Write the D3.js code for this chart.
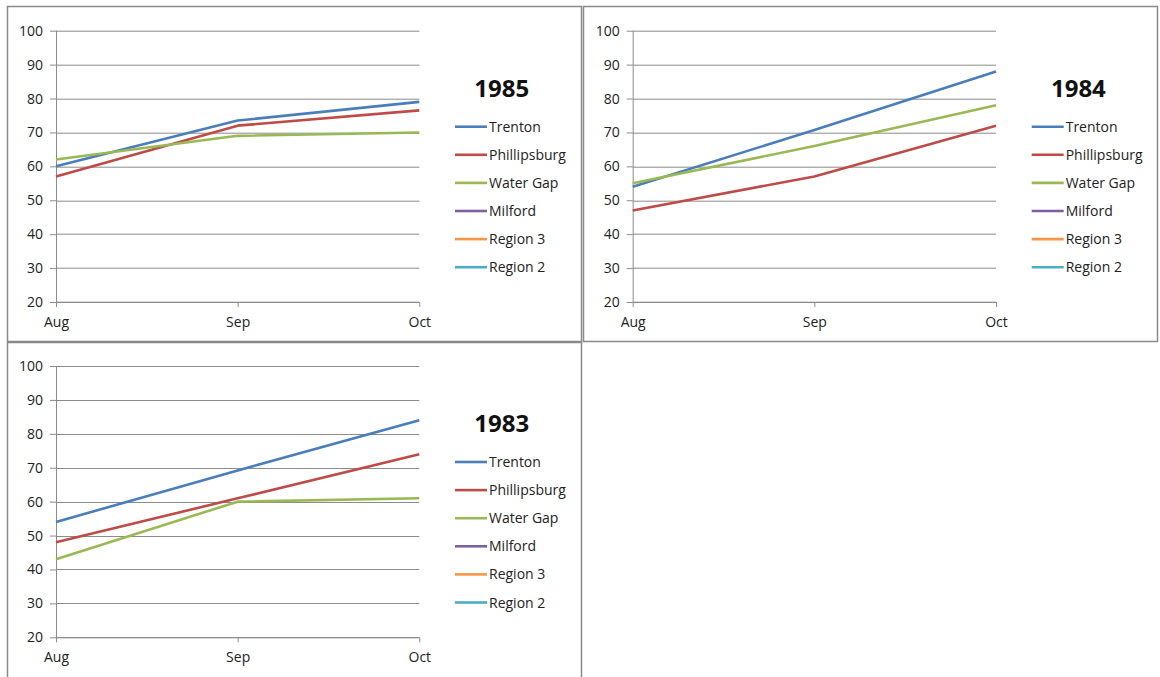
<!DOCTYPE html>
<html>
<head>
<meta charset="utf-8">
<script src="https://cdnjs.cloudflare.com/ajax/libs/d3/7.8.5/d3.min.js"></script>
<style>
  html, body { margin: 0; padding: 0; background: #fff; }
  svg { display: block; font-family: "Open Sans", sans-serif; }
</style>
</head>
<body>
<svg id="chart" width="1160" height="677"></svg>
<script>
// Months on the x axis
const months = ["Aug", "Sep", "Oct"];
// Y axis ticks
const yTicks = [20, 30, 40, 50, 60, 70, 80, 90, 100];
// Series names (legend order) and colours
const seriesNames = ["Trenton", "Phillipsburg", "Water Gap", "Milford", "Region 3", "Region 2"];
const seriesColors = ["#4a7ebb", "#be4b48", "#98b954", "#7d60a0", "#f79646", "#4bacc6"];

// Values per year (Milford, Region 3 and Region 2 have no readings)
const trenton1985 = [60, 73.5, 79];
const phillipsburg1985 = [57, 72, 76.5];
const waterGap1985 = [62, 69, 70];

const trenton1984 = [54, 70.7, 88];
const phillipsburg1984 = [47, 57, 72];
const waterGap1984 = [55, 66, 78];

const trenton1983 = [54, 69.2, 84];
const phillipsburg1983 = [48, 61, 74];
const waterGap1983 = [43, 60, 61];

const panels = [
  { title: "1985", series: [trenton1985, phillipsburg1985, waterGap1985, [], [], []],
    box: [7, 6, 574, 335], plot: [56, 30.7] },
  { title: "1984", series: [trenton1984, phillipsburg1984, waterGap1984, [], [], []],
    box: [583, 6, 574, 335], plot: [632.7, 30.7] },
  { title: "1983", series: [trenton1983, phillipsburg1983, waterGap1983, [], [], []],
    box: [7, 342, 574, 336], plot: [56, 366] }
];

const plotW = 363.3, plotH = 271.3;
const gridColor = "#8c8c8c";
const svg = d3.select("#chart");

const x = d3.scalePoint().domain(months).range([0, plotW]);
const y = d3.scaleLinear().domain([20, 100]).range([plotH, 0]);

panels.forEach(p => {
  // panel frame
  svg.append("rect")
    .attr("x", p.box[0] + 0.5).attr("y", p.box[1] + 0.5)
    .attr("width", p.box[2]).attr("height", p.box[3])
    .attr("fill", "#fff").attr("stroke", "#8a8a8a").attr("stroke-width", 1.5);

  const g = svg.append("g").attr("transform", `translate(${p.plot[0]},${p.plot[1]})`);

  // horizontal gridlines
  g.append("g").selectAll("line").data(yTicks).join("line")
    .attr("x1", 0).attr("x2", plotW)
    .attr("y1", d => Math.round(y(d)) + 0.5).attr("y2", d => Math.round(y(d)) + 0.5)
    .attr("stroke", gridColor).attr("stroke-width", 1);

  // y axis
  const yAxis = d3.axisLeft(y).tickValues(yTicks).tickSize(6).tickPadding(7);
  const ya = g.append("g").call(yAxis);
  ya.select(".domain").attr("stroke", gridColor).attr("d", `M0.5,0V${plotH}`);
  ya.selectAll(".tick line").attr("stroke", gridColor);
  ya.selectAll(".tick text").attr("font-family", "Open Sans, sans-serif")
    .attr("font-size", 14).attr("fill", "#222");

  // x axis
  const xAxis = d3.axisBottom(x).tickSize(5).tickPadding(10);
  const xa = g.append("g").attr("transform", `translate(0,${plotH})`).call(xAxis);
  xa.select(".domain").attr("stroke", gridColor).attr("d", `M0,0.5H${plotW}`);
  xa.selectAll(".tick line").attr("stroke", gridColor);
  xa.selectAll(".tick text").attr("font-family", "Open Sans, sans-serif")
    .attr("font-size", 14).attr("fill", "#222");

  // series lines
  const line = d3.line().x((d, i) => x(months[i])).y(d => y(d));
  p.series.forEach((vals, si) => {
    if (!vals.length) return;
    g.append("path").datum(vals)
      .attr("d", line)
      .attr("fill", "none")
      .attr("stroke", seriesColors[si])
      .attr("stroke-width", 2.6)
      .attr("stroke-linejoin", "round");
  });

  // title
  const lx = p.plot[0] + 399;
  svg.append("text")
    .attr("x", p.plot[0] + 445.7).attr("y", p.plot[1] + 66)
    .attr("text-anchor", "middle")
    .attr("font-size", 24).attr("font-weight", "bold").attr("fill", "#111")
    .text(p.title);

  // legend
  const leg = svg.append("g");
  seriesNames.forEach((name, i) => {
    const cy = p.plot[1] + 96 + i * 28.1;
    leg.append("line")
      .attr("x1", lx).attr("x2", lx + 32)
      .attr("y1", cy).attr("y2", cy)
      .attr("stroke", seriesColors[i]).attr("stroke-width", 2.6);
    leg.append("text")
      .attr("x", lx + 34).attr("y", cy).attr("dy", "0.36em")
      .attr("font-size", 14).attr("fill", "#222")
      .text(name);
  });
});
</script>
</body>
</html>
